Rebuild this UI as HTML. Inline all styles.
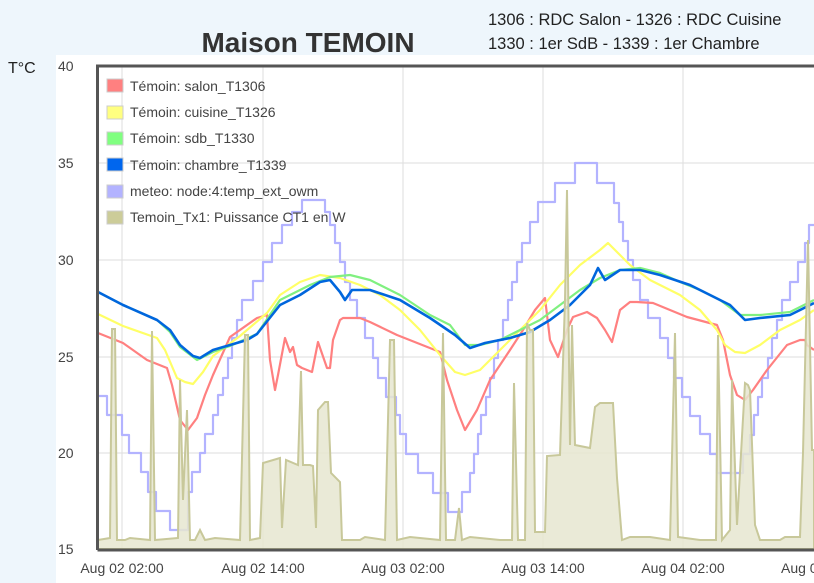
<!DOCTYPE html>
<html><head><meta charset="utf-8"><style>
html,body{margin:0;padding:0;width:814px;height:583px;overflow:hidden;background:#eef6fc;font-family:"Liberation Sans",sans-serif;}
</style></head><body>
<svg width="814" height="583" xmlns="http://www.w3.org/2000/svg" style="position:absolute;left:0;top:0" font-family="Liberation Sans, sans-serif">
<rect x="56" y="55" width="758" height="528" fill="#fff"/>
<text x="308" y="52" font-size="28" font-weight="bold" fill="#333" text-anchor="middle">Maison TEMOIN</text>
<text x="488" y="25" font-size="16.5" fill="#222">1306 : RDC Salon - 1326 : RDC Cuisine</text>
<text x="488" y="49" font-size="16.5" fill="#222">1330 : 1er SdB - 1339 : 1er Chambre</text>
<text x="8" y="73" font-size="16" fill="#222">T°C</text>
<g font-size="14" fill="#444">
<text x="58" y="71">40</text><text x="58" y="168">35</text><text x="58" y="265">30</text><text x="58" y="362">25</text><text x="58" y="458">20</text><text x="58" y="554">15</text>
<text x="122" y="573" text-anchor="middle">Aug 02 02:00</text>
<text x="263" y="573" text-anchor="middle">Aug 02 14:00</text>
<text x="403" y="573" text-anchor="middle">Aug 03 02:00</text>
<text x="543" y="573" text-anchor="middle">Aug 03 14:00</text>
<text x="683" y="573" text-anchor="middle">Aug 04 02:00</text>
<text x="781" y="573">Aug 0</text>
</g>
<g stroke="#ddd" stroke-width="1">
<line x1="97" y1="163" x2="814" y2="163"/><line x1="97" y1="260" x2="814" y2="260"/><line x1="97" y1="357" x2="814" y2="357"/><line x1="97" y1="453" x2="814" y2="453"/>
<line x1="122" y1="66" x2="122" y2="550"/><line x1="263" y1="66" x2="263" y2="550"/><line x1="403" y1="66" x2="403" y2="550"/><line x1="543" y1="66" x2="543" y2="550"/><line x1="683" y1="66" x2="683" y2="550"/>
</g>
<g fill="none" stroke-width="2.2" stroke-linejoin="round">
<path stroke="#b3b3ff" d="M98,396 H107 V415 H122 V435 H129 V453 H141 V472 H148 V492 H156 V511 H170 V530 H188 V492 H192 V472 H200 V453 H205 V434 H213 V415 H218 V395 H223 V378 H228 V358 H232 V338 H237 V320 H242 V300 H253 V281 H263 V262 H272 V243 H282 V225 H292 V212 H302 V200 H325 V212 H330 V225 H335 V243 H340 V262 H345 V282 H350 V300 H357 V318 H365 V338 H373 V358 H378 V378 H386 V397 H396 V415 H400 V434 H406 V454 H418 V473 H433 V493 H448 V512 H462 V492 H470 V473 H474 V454 H478 V434 H481 V415 H486 V397 H490 V378 H494 V358 H498 V340 H503 V320 H508 V300 H512 V282 H517 V262 H522 V243 H530 V222 H538 V202 H555 V183 H575 V163 H597 V183 H614 V203 H619 V222 H623 V241 H628 V260 H633 V280 H640 V300 H648 V318 H660 V338 H668 V358 H674 V378 H682 V397 H690 V416 H700 V434 H710 V454 H717 V473 H743 V454 H750 V435 H754 V415 H758 V397 H762 V378 H768 V358 H772 V338 H777 V320 H782 V300 H790 V282 H798 V262 H805 V243 H809 V225 H814"/>
<polyline stroke="#ff8080" points="98,333 123,343 147,360 167,368 172,385 180,420 188,430 197,418 205,395 213,375 230,337 257,318 267,315 270,360 275,390 278,375 285,338 290,352 293,347 297,365 302,368 312,372 318,342 327,368 330,368 333,340 340,320 343,318 360,318 370,322 397,335 440,352 447,380 457,410 465,430 477,410 490,380 510,350 523,330 535,310 545,298 550,340 558,357 567,330 573,317 587,312 597,318 605,330 612,342 620,310 630,302 637,302 653,303 687,317 717,325 723,340 730,375 737,395 745,400 753,390 767,370 787,345 800,340 805,340 807,345 814,350"/>
<polyline stroke="#ffff66" points="98,314 123,326 157,338 165,350 177,378 185,382 193,384 203,372 213,356 240,336 267,313 280,295 300,282 320,275 340,278 360,285 380,295 400,310 420,330 440,355 455,372 465,375 480,370 500,350 520,330 540,310 560,285 580,265 600,250 608,243 620,255 630,265 650,280 680,295 700,310 717,330 725,345 735,352 745,353 760,345 780,330 800,320 814,310"/>
<polyline stroke="#80f080" points="98,292 123,305 157,320 170,332 180,347 197,360 213,352 230,346 257,334 280,300 310,285 330,277 350,275 370,280 400,295 430,315 450,325 465,345 480,345 500,340 520,330 540,320 560,305 580,290 600,278 620,270 640,268 660,273 680,282 700,290 720,300 740,315 760,315 790,312 814,300"/>
<polyline stroke="#0066dd" stroke-width="2.6" points="98,292 123,305 157,320 170,330 180,345 193,356 200,358 213,350 230,345 247,340 257,334 280,305 300,295 320,282 330,280 340,292 345,300 352,290 370,290 400,300 430,318 455,335 470,348 485,343 510,338 530,332 550,320 570,305 590,285 598,268 605,280 620,270 640,270 660,275 690,285 710,295 730,305 745,320 760,318 790,315 814,303"/>
</g>
<polygon fill="#e6e6d0" fill-opacity="0.85" stroke="#c8c89a" stroke-width="2" points="98,549 98,540 110,538 112,329 115,329 117,540 125,540 130,538 150,540 152,331 155,540 178,538 180,380 183,500 187,410 190,540 195,540 200,530 205,540 215,538 240,540 245,335 248,335 250,540 260,538 263,463 280,458 282,528 286,460 298,465 301,371 303,465 310,465 313,466 316,528 318,410 325,402 328,402 331,473 340,482 342,540 360,540 365,537 385,540 390,340 394,340 397,540 410,537 440,540 443,333 446,540 455,540 459,508 462,540 470,537 500,540 512,540 514,383 518,540 525,540 527,323 530,330 533,330 535,532 545,532 547,456 560,455 565,300 567,190 570,445 572,325 575,445 590,448 595,407 600,403 613,403 617,478 622,540 630,537 650,537 670,540 675,333 678,537 700,540 716,540 718,335 722,540 730,530 732,380 737,525 745,383 748,385 750,390 755,525 760,540 780,540 785,537 800,537 803,453 808,240 812,450 814,450 814,549"/>
<path d="M97.5,550 V66 H814 M97.5,550 H814" fill="none" stroke="#555" stroke-width="3"/>
<g font-size="14" fill="#444">
<rect x="107" y="79" width="16" height="13" fill="#ff8080" stroke="#ccc"/><text x="130" y="91">Témoin: salon_T1306</text>
<rect x="107" y="106" width="16" height="13" fill="#ffff80" stroke="#ccc"/><text x="130" y="117">Témoin: cuisine_T1326</text>
<rect x="107" y="132" width="16" height="13" fill="#80ff80" stroke="#ccc"/><text x="130" y="143">Témoin: sdb_T1330</text>
<rect x="107" y="158" width="16" height="13" fill="#0066ee" stroke="#ccc"/><text x="130" y="170">Témoin: chambre_T1339</text>
<rect x="107" y="185" width="16" height="13" fill="#b3b3ff" stroke="#ccc"/><text x="130" y="196">meteo: node:4:temp_ext_owm</text>
<rect x="107" y="211" width="16" height="13" fill="#cccc99" stroke="#ccc"/><text x="130" y="222">Temoin_Tx1: Puissance CT1 en W</text>
</g>
</svg>
</body></html>
